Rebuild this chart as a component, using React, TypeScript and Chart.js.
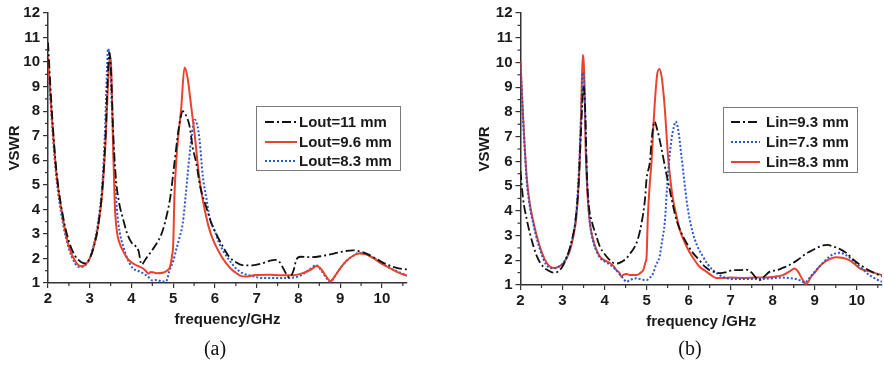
import React, { useEffect, useRef } from 'react';
import { Chart, registerables } from 'chart.js';

Chart.register(...registerables);

const FONT = '"Liberation Sans", Arial, sans-serif';

// ---------- Panel (a): Lout variation ----------
const aLout11Freq = [2.0, 2.1, 2.2, 2.35, 2.5, 2.65, 2.8, 2.9, 3.0, 3.1, 3.2, 3.3, 3.38, 3.43, 3.47, 3.51, 3.56, 3.62, 3.7, 3.8, 3.9, 4.0, 4.1, 4.17, 4.24, 4.35, 4.5, 4.65, 4.75, 4.85, 4.93, 5.03, 5.1, 5.15, 5.23, 5.3, 5.39, 5.47, 5.55, 5.65, 5.79, 5.9, 6.03, 6.2, 6.34, 6.5, 6.65, 6.9, 7.13, 7.3, 7.45, 7.55, 7.65, 7.78, 7.88, 7.95, 8.05, 8.3, 8.56, 8.8, 9.05, 9.3, 9.55, 9.8, 10.0, 10.2, 10.4, 10.6];
const aLout11Vswr = [10.8, 7.8, 5.6, 3.8, 2.7, 2.1, 1.85, 1.8, 2.0, 2.5, 3.3, 4.8, 7.0, 9.3, 10.4, 9.6, 7.2, 5.4, 4.3, 3.6, 3.0, 2.65, 2.5, 2.3, 1.75, 2.0, 2.35, 2.75, 3.15, 3.8, 4.5, 5.9, 6.9, 7.5, 8.0, 7.85, 7.4, 6.5, 5.9, 4.9, 4.1, 3.5, 3.0, 2.45, 2.07, 1.85, 1.73, 1.72, 1.8, 1.9, 1.94, 1.85, 1.55, 1.22, 1.5, 1.95, 2.07, 2.05, 2.1, 2.18, 2.28, 2.33, 2.25, 2.05, 1.85, 1.7, 1.6, 1.55];

const aLout96Freq = [2.0, 2.1, 2.2, 2.35, 2.5, 2.65, 2.8, 2.9, 3.0, 3.1, 3.2, 3.3, 3.38, 3.43, 3.48, 3.52, 3.56, 3.6, 3.65, 3.72, 3.8, 3.9, 4.03, 4.15, 4.27, 4.35, 4.4, 4.47, 4.6, 4.75, 4.85, 4.92, 4.97, 5.0, 5.03, 5.07, 5.11, 5.19, 5.27, 5.34, 5.43, 5.51, 5.63, 5.79, 5.9, 6.03, 6.15, 6.27, 6.4, 6.5, 6.6, 6.74, 6.98, 7.3, 7.6, 7.9, 8.1, 8.3, 8.44, 8.55, 8.65, 8.77, 8.88, 9.0, 9.15, 9.3, 9.45, 9.6, 9.8, 10.0, 10.2, 10.4, 10.6];
const aLout96Vswr = [10.2, 7.6, 5.5, 3.7, 2.5, 1.9, 1.68, 1.75, 2.0, 2.5, 3.3, 4.7, 6.8, 8.8, 10.25, 9.5, 6.5, 4.2, 3.1, 2.6, 2.3, 2.0, 1.8, 1.7, 1.6, 1.48, 1.38, 1.45, 1.4, 1.42, 1.5, 1.65, 2.1, 2.6, 4.6, 5.9, 6.8, 8.1, 9.78, 9.4, 8.2, 7.1, 5.2, 3.7, 3.0, 2.48, 2.1, 1.8, 1.55, 1.42, 1.3, 1.26, 1.33, 1.34, 1.32, 1.32, 1.4, 1.55, 1.69, 1.55, 1.3, 1.08, 1.3, 1.6, 1.9, 2.1, 2.2, 2.18, 2.0, 1.78, 1.6, 1.42, 1.3];

const aLout83Freq = [2.0, 2.1, 2.2, 2.35, 2.5, 2.65, 2.75, 2.85, 3.0, 3.1, 3.2, 3.3, 3.37, 3.41, 3.44, 3.48, 3.53, 3.58, 3.65, 3.72, 3.8, 3.9, 4.03, 4.15, 4.27, 4.4, 4.51, 4.6, 4.75, 4.83, 4.91, 5.0, 5.07, 5.15, 5.23, 5.3, 5.35, 5.43, 5.52, 5.58, 5.63, 5.71, 5.8, 5.87, 6.0, 6.1, 6.2, 6.34, 6.5, 6.66, 6.9, 7.13, 7.5, 7.9, 8.1, 8.3, 8.42, 8.55, 8.65, 8.76, 8.88, 9.0, 9.15, 9.3, 9.45, 9.6, 9.8, 10.0, 10.2, 10.4, 10.6];
const aLout83Vswr = [10.0, 7.4, 5.3, 3.5, 2.4, 1.8, 1.65, 1.68, 2.0, 2.6, 3.5, 5.0, 7.4, 9.5, 10.55, 10.1, 8.2, 6.0, 4.0, 3.04, 2.5, 2.0, 1.6, 1.5, 1.4, 1.25, 1.1, 1.12, 1.06, 1.07, 1.5, 1.9, 2.35, 2.85, 3.45, 4.6, 5.5, 6.84, 7.65, 7.4, 6.84, 5.34, 4.4, 3.7, 3.1, 2.63, 2.3, 1.94, 1.6, 1.4, 1.28, 1.2, 1.2, 1.22, 1.35, 1.6, 1.73, 1.5, 1.25, 1.05, 1.3, 1.6, 1.9, 2.1, 2.22, 2.18, 2.02, 1.8, 1.6, 1.45, 1.3];

// ---------- Panel (b): Lin variation ----------
const bLin93Freq = [2.0, 2.06, 2.15, 2.23, 2.38, 2.54, 2.65, 2.78, 2.9, 2.98, 3.06, 3.14, 3.22, 3.3, 3.38, 3.44, 3.5, 3.54, 3.58, 3.62, 3.7, 3.8, 3.89, 4.0, 4.1, 4.2, 4.3, 4.42, 4.52, 4.62, 4.72, 4.8, 4.88, 4.96, 5.0, 5.08, 5.12, 5.19, 5.25, 5.32, 5.39, 5.47, 5.55, 5.63, 5.71, 5.83, 5.95, 6.1, 6.26, 6.38, 6.5, 6.62, 6.74, 6.9, 7.05, 7.2, 7.37, 7.5, 7.6, 7.69, 7.8, 7.93, 8.1, 8.25, 8.4, 8.6, 8.75, 8.88, 9.05, 9.2, 9.3, 9.45, 9.6, 9.75, 9.9, 10.05, 10.2, 10.4, 10.6];
const bLin93Vswr = [5.6, 4.5, 3.65, 3.05, 2.2, 1.74, 1.6, 1.5, 1.55, 1.7, 1.95, 2.3, 2.8, 3.5, 5.0, 7.2, 9.05, 8.0, 5.5, 4.3, 3.55, 3.0, 2.55, 2.25, 2.05, 1.9, 1.87, 1.95, 2.08, 2.3, 2.55, 2.9, 3.5, 4.44, 5.3, 6.0, 6.87, 7.61, 7.3, 6.8, 6.2, 5.5, 4.85, 4.2, 3.63, 3.1, 2.7, 2.3, 2.0, 1.75, 1.6, 1.52, 1.48, 1.52, 1.6, 1.6, 1.62, 1.5, 1.3, 1.2, 1.35, 1.54, 1.6, 1.7, 1.81, 2.02, 2.22, 2.35, 2.5, 2.6, 2.62, 2.55, 2.45, 2.3, 2.05, 1.85, 1.68, 1.5, 1.34];

const bLin73Freq = [2.0, 2.05, 2.1, 2.15, 2.22, 2.3, 2.4, 2.5, 2.6, 2.72, 2.82, 2.92, 3.02, 3.1, 3.18, 3.26, 3.33, 3.4, 3.45, 3.49, 3.53, 3.56, 3.61, 3.66, 3.73, 3.8, 3.89, 4.0, 4.13, 4.25, 4.35, 4.45, 4.52, 4.6, 4.76, 4.9, 5.0, 5.08, 5.15, 5.22, 5.31, 5.37, 5.43, 5.51, 5.59, 5.65, 5.69, 5.75, 5.83, 5.89, 5.95, 6.02, 6.1, 6.2, 6.34, 6.45, 6.58, 6.74, 6.9, 7.1, 7.4, 7.61, 7.9, 8.24, 8.4, 8.56, 8.66, 8.76, 8.9, 9.03, 9.2, 9.35, 9.5, 9.59, 9.75, 9.9, 10.1, 10.3, 10.45, 10.6];
const bLin73Vswr = [9.9, 8.1, 6.5, 5.2, 4.2, 3.5, 2.8, 2.25, 1.85, 1.68, 1.68, 1.75, 1.9, 2.15, 2.5, 3.1, 4.0, 6.0, 8.3, 9.6, 8.6, 6.3, 4.4, 3.4, 2.75, 2.4, 2.1, 1.95, 1.82, 1.65, 1.45, 1.25, 1.13, 1.2, 1.27, 1.22, 1.2, 1.3, 1.45, 1.8, 2.15, 2.8, 3.5, 5.53, 6.87, 7.4, 7.61, 7.3, 6.2, 5.3, 4.44, 3.7, 3.1, 2.6, 2.15, 1.85, 1.6, 1.4, 1.28, 1.24, 1.24, 1.24, 1.26, 1.3, 1.28, 1.24, 1.18, 1.1, 1.35, 1.6, 1.9, 2.15, 2.28, 2.3, 2.2, 2.0, 1.7, 1.4, 1.25, 1.13];

const bLin83Freq = [2.0, 2.05, 2.1, 2.15, 2.22, 2.3, 2.4, 2.5, 2.62, 2.72, 2.82, 2.92, 3.02, 3.1, 3.18, 3.26, 3.33, 3.4, 3.44, 3.48, 3.52, 3.55, 3.6, 3.65, 3.73, 3.8, 3.89, 4.0, 4.13, 4.22, 4.28, 4.35, 4.4, 4.45, 4.52, 4.62, 4.76, 4.86, 4.92, 4.97, 5.0, 5.03, 5.08, 5.12, 5.16, 5.2, 5.25, 5.3, 5.36, 5.43, 5.51, 5.57, 5.63, 5.71, 5.79, 5.9, 6.03, 6.15, 6.26, 6.42, 6.55, 6.66, 6.85, 7.0, 7.3, 7.6, 7.93, 8.1, 8.24, 8.4, 8.52, 8.6, 8.7, 8.8, 8.9, 9.0, 9.11, 9.25, 9.4, 9.51, 9.65, 9.83, 9.95, 10.06, 10.3, 10.6];
const bLin83Vswr = [10.04, 8.2, 6.6, 5.3, 4.3, 3.6, 2.9, 2.35, 1.9, 1.72, 1.69, 1.75, 1.88, 2.1, 2.42, 3.0, 3.77, 5.66, 7.8, 10.3, 9.3, 6.5, 4.5, 3.5, 2.82, 2.45, 2.15, 2.0, 1.88, 1.75, 1.6, 1.5, 1.34, 1.42, 1.44, 1.4, 1.4, 1.5, 1.6, 1.9, 2.15, 3.77, 5.2, 6.06, 7.4, 8.5, 9.5, 9.74, 9.4, 8.2, 6.2, 5.2, 4.44, 3.8, 3.23, 2.75, 2.3, 1.98, 1.74, 1.54, 1.38, 1.28, 1.28, 1.3, 1.28, 1.3, 1.31, 1.35, 1.4, 1.55, 1.67, 1.55, 1.25, 1.04, 1.3, 1.5, 1.74, 1.95, 2.08, 2.12, 2.1, 2.0, 1.85, 1.68, 1.55, 1.4];

// ---------- Axis ticks ----------
const xMin = 2;
const xMax = 10.6;
const xStep = 1;
const yMin = 1;
const yMax = 12;
const yStep = 1;

const RED = '#E8432E';
const BLUE = '#2B56D3';
const BLACK = '#111111';
const DASHDOT = [9, 3, 2, 3];
const DOTTED = [2, 2];

const pts = (xs: number[], ys: number[]) => xs.map((x, i) => ({ x, y: ys[i] }));

const minorTicks = {
  id: 'minorTicks',
  afterDraw(chart: any) {
    const ctx = chart.ctx;
    const xs = chart.scales.x;
    const ys = chart.scales.y;
    const { left, bottom } = chart.chartArea;
    ctx.save();
    ctx.strokeStyle = '#333';
    ctx.lineWidth = 1.2;
    for (let v = xMin + xStep / 2; v < xMax; v += xStep) {
      const px = xs.getPixelForValue(v);
      ctx.beginPath();
      ctx.moveTo(px, bottom);
      ctx.lineTo(px, bottom + 3);
      ctx.stroke();
    }
    for (let v = yMin + yStep / 2; v < yMax; v += yStep) {
      const py = ys.getPixelForValue(v);
      ctx.beginPath();
      ctx.moveTo(left, py);
      ctx.lineTo(left - 3, py);
      ctx.stroke();
    }
    ctx.restore();
  },
};

const boxLegend = {
  id: 'boxLegend',
  afterDatasetsDraw(chart: any, _args: any, opts: any) {
    if (!opts || !opts.box) return;
    const ctx = chart.ctx;
    const [bx, by, bw, bh] = opts.box;
    ctx.save();
    ctx.fillStyle = '#ffffff';
    ctx.fillRect(bx, by, bw, bh);
    ctx.strokeStyle = '#7a7a7a';
    ctx.lineWidth = 1;
    ctx.strokeRect(bx + 0.5, by + 0.5, bw, bh);
    ctx.font = `bold 15px ${FONT}`;
    ctx.textBaseline = 'middle';
    ctx.textAlign = 'left';
    opts.order.forEach((dsIndex: number, i: number) => {
      const ds = chart.data.datasets[dsIndex];
      const y = opts.rows[i];
      ctx.beginPath();
      ctx.setLineDash(ds.borderDash || []);
      ctx.strokeStyle = ds.borderColor;
      ctx.lineWidth = ds.borderWidth;
      ctx.moveTo(opts.lineX[0], y);
      ctx.lineTo(opts.lineX[1], y);
      ctx.stroke();
      ctx.setLineDash([]);
      ctx.fillStyle = '#1a1a1a';
      ctx.fillText(ds.label, opts.textX, y + 1);
    });
    ctx.restore();
  },
};

type PanelProps = {
  datasets: any[];
  xTitle: string;
  pad: { left: number; right: number; top: number; bottom: number };
  yWidth: number;
  yTitlePad: number;
  legend: any;
};

function Panel({ datasets, xTitle, pad, yWidth, yTitlePad, legend }: PanelProps) {
  const ref = useRef<HTMLCanvasElement | null>(null);
  useEffect(() => {
    if (!ref.current) return;
    const tickFont = { family: FONT, size: 15, weight: 'bold' as const };
    const chart = new Chart(ref.current, {
      type: 'line',
      data: { datasets },
      options: {
        animation: false,
        responsive: false,
        maintainAspectRatio: false,
        layout: { padding: pad },
        elements: {
          point: { radius: 0 },
          line: { cubicInterpolationMode: 'monotone' },
        },
        plugins: {
          legend: { display: false },
          tooltip: { enabled: false },
          boxLegend: legend,
        } as any,
        scales: {
          x: {
            type: 'linear',
            min: xMin,
            max: xMax,
            ticks: { stepSize: xStep, includeBounds: false, font: tickFont, color: '#1a1a1a', padding: 2 },
            grid: { drawOnChartArea: false, drawTicks: true, tickLength: 5, color: '#333', lineWidth: 1.2 },
            border: { display: true, color: '#333', width: 1.5 },
            title: { display: true, text: xTitle, font: tickFont, color: '#1a1a1a', padding: { top: 0, bottom: 0 } },
            afterFit: (s: any) => { s.height = 46; },
          },
          y: {
            type: 'linear',
            min: yMin,
            max: yMax,
            ticks: { stepSize: yStep, font: tickFont, color: '#1a1a1a', padding: 3 },
            grid: { drawOnChartArea: false, drawTicks: true, tickLength: 5, color: '#333', lineWidth: 1.2 },
            border: { display: true, color: '#333', width: 1.5 },
            title: { display: true, text: 'VSWR', font: tickFont, color: '#1a1a1a', padding: { top: yTitlePad, bottom: 0 } },
            afterFit: (s: any) => { s.width = yWidth; },
          },
        },
      },
      plugins: [minorTicks, boxLegend],
    });
    return () => chart.destroy();
  }, []);
  return <canvas ref={ref} width={442} height={365} style={{ width: 442, height: 365, display: 'block' }} />;
}

const line = (label: string, xs: number[], ys: number[], color: string, dash: number[], width: number) => ({
  label,
  data: pts(xs, ys),
  borderColor: color,
  backgroundColor: color,
  borderWidth: width,
  borderDash: dash,
  fill: false,
});

export default function App() {
  const dsA = [
    line('Lout=11 mm', aLout11Freq, aLout11Vswr, BLACK, DASHDOT, 1.8),
    line('Lout=9.6 mm', aLout96Freq, aLout96Vswr, RED, [], 2),
    line('Lout=8.3 mm', aLout83Freq, aLout83Vswr, BLUE, DOTTED, 2),
  ];
  const dsB = [
    line('Lin=9.3 mm', bLin93Freq, bLin93Vswr, BLACK, DASHDOT, 1.8),
    line('Lin=7.3 mm', bLin73Freq, bLin73Vswr, BLUE, DOTTED, 2),
    line('Lin=8.3 mm', bLin83Freq, bLin83Vswr, RED, [], 2),
  ];
  const capStyle: React.CSSProperties = {
    position: 'absolute',
    top: 334,
    width: 60,
    textAlign: 'center',
    font: '20px "Liberation Serif", "Times New Roman", serif',
    color: '#111',
    lineHeight: '28px',
  };
  return (
    <div style={{ position: 'absolute', left: 0, top: 0, width: 884, height: 365, background: '#fff', overflow: 'hidden' }}>
      <div style={{ position: 'absolute', left: 0, top: 0 }}>
        <Panel
          datasets={dsA}
          xTitle="frequency/GHz"
          pad={{ left: 0, right: 35, top: 13, bottom: 36 }}
          yWidth={48}
          yTitlePad={6}
          legend={{ box: [256, 106, 144, 64], lineX: [265, 297], textX: 299, rows: [122, 142, 161], order: [0, 1, 2] }}
        />
      </div>
      <div style={{ position: 'absolute', left: 442, top: 0 }}>
        <Panel
          datasets={dsB}
          xTitle="frequency /GHz"
          pad={{ left: 30, right: 2, top: 13, bottom: 34 }}
          yWidth={48.5}
          yTitlePad={4}
          legend={{ box: [281, 107, 134, 65], lineX: [289, 318], textX: 324, rows: [122, 142, 162], order: [0, 1, 2] }}
        />
      </div>
      <div style={{ ...capStyle, left: 185 }}>(a)</div>
      <div style={{ ...capStyle, left: 660 }}>(b)</div>
    </div>
  );
}
